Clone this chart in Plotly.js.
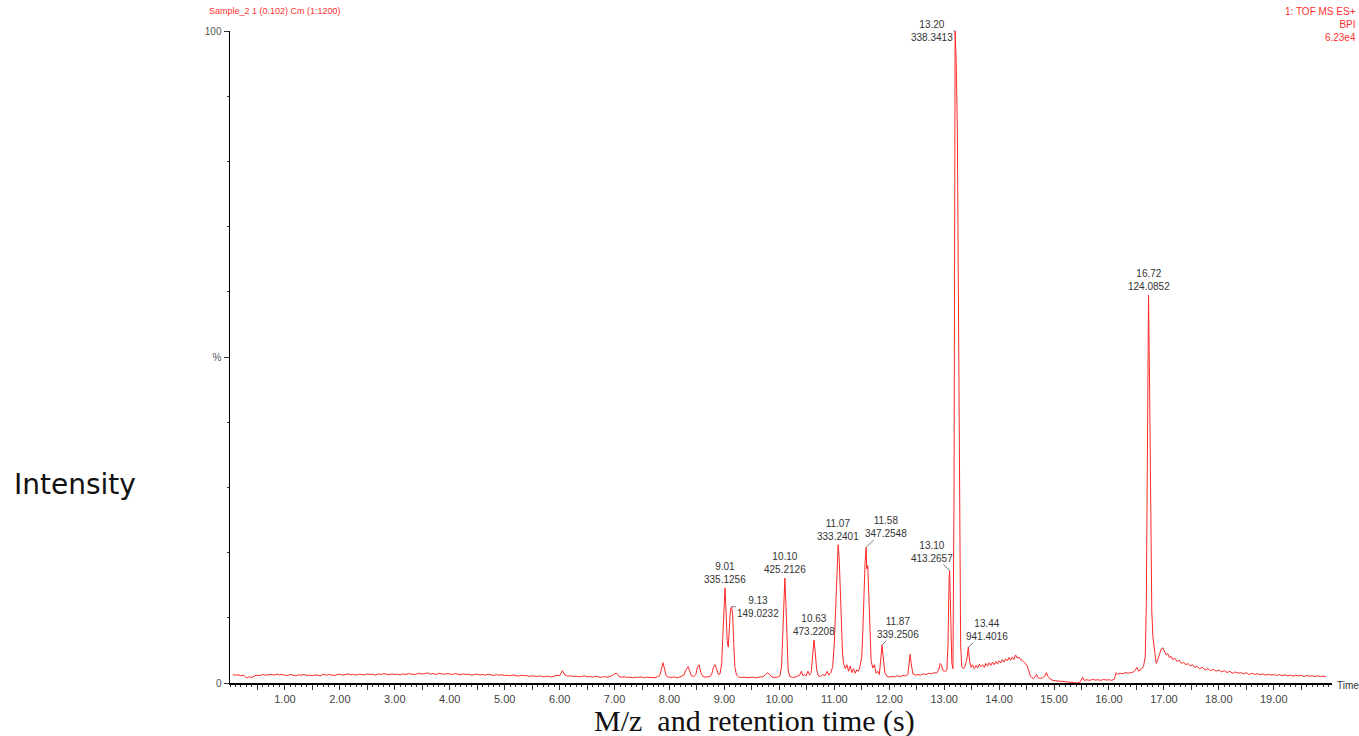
<!DOCTYPE html>
<html>
<head>
<meta charset="utf-8">
<script src="https://cdn.plot.ly/plotly-3.0.1.min.js"></script>
<style>html,body{margin:0;padding:0;background:#fff;}#chart{width:1359px;height:736px;}</style>
</head>
<body>
<div id="chart"></div>
<script>
// ---- Data (retention time in min, intensity in % of base peak) ----
const rtEarly = [0.05,0.10,0.15,0.20,0.25,0.30,0.35,0.40,0.45,0.50,0.55,0.60,0.65,0.70,0.75,0.80,0.85,0.90,0.95,1.00,
1.05,1.10,1.15,1.20,1.25,1.30,1.35,1.40,1.45,1.50,1.55,1.60,1.65,1.70,1.75,1.80,1.85,1.90,1.95,2.00,
2.05,2.10,2.15,2.20,2.25,2.30,2.35,2.40,2.45,2.50,2.55,2.60,2.65,2.70,2.75,2.80,2.85,2.90,2.95,3.00,
3.05,3.10,3.15,3.20,3.25,3.30,3.35,3.40,3.45,3.50,3.55,3.60,3.65,3.70,3.75,3.80,3.85,3.90,3.95,4.00,
4.05,4.10,4.15,4.20,4.25,4.30,4.35,4.40,4.45,4.50,4.55,4.60,4.65,4.70,4.75,4.80,4.85,4.90,4.95,5.00,
5.05,5.10,5.15,5.20,5.25,5.30,5.35,5.40,5.45,5.50,5.55,5.60,5.65,5.70,5.75,5.80,5.85,5.90,5.95,6.00,
6.05,6.10,6.15,6.20,6.25,6.30,6.35,6.40,6.45,6.50,6.55,6.60,6.65,6.70,6.75,6.80,6.85,6.90,6.95,7.00];
const intEarly = [1.3,1.2,1.25,1.1,1.2,0.8,0.95,0.85,1.1,1.2,1.15,1.3,1.2,1.25,1.3,1.2,1.35,1.25,1.3,1.2,
1.15,1.3,1.2,1.1,1.25,1.2,1.3,1.15,1.2,1.1,1.25,1.2,1.1,1.35,1.2,1.3,1.25,1.15,1.3,1.35,
1.2,1.3,1.4,1.25,1.3,1.2,1.35,1.3,1.25,1.4,1.3,1.35,1.2,1.4,1.3,1.45,1.3,1.25,1.4,1.3,
1.35,1.25,1.4,1.3,1.45,1.35,1.3,1.4,1.5,1.35,1.4,1.55,1.35,1.45,1.3,1.5,1.4,1.35,1.45,1.4,
1.3,1.45,1.35,1.25,1.4,1.3,1.35,1.2,1.3,1.35,1.25,1.3,1.2,1.35,1.25,1.15,1.3,1.2,1.25,1.15,
1.2,1.1,1.25,1.15,1.05,1.2,1.1,1.15,1.0,1.1,1.05,1.0,1.1,0.95,1.0,1.05,0.9,1.0,1.2,1.1,
1.9,1.2,1.05,1.1,1.0,1.05,0.95,1.0,1.1,0.95,1.0,0.9,1.05,0.95,0.85,1.0,0.9,0.95,1.1,1.4];

const rtMid = [7.04,7.08,7.13,7.18,7.23,7.28,7.33,7.38,7.43,7.48,7.53,7.58,7.63,7.68,7.73,7.78,7.82,7.85,7.88,7.91,7.94,7.98,
8.03,8.08,8.13,8.18,8.22,8.26,8.30,8.34,8.37,8.40,8.44,8.48,8.51,8.54,8.57,8.61,8.65,8.70,8.74,8.77,8.80,8.83,8.86,8.89,8.92,8.95,8.97,8.99,
9.01,9.03,9.05,9.07,9.09,9.11,9.13,9.15,9.17,9.19,9.22,9.26,9.31,9.36,9.41,9.46,9.51,9.56,9.61,9.66,9.71,9.75,9.79,9.83,9.87,9.92,9.97,
10.01,10.04,10.06,10.08,10.10,10.12,10.14,10.16,10.19,10.24,10.29,10.33,10.37,10.40,10.43,10.46,10.49,10.52,10.55,10.58,10.61,10.63,10.65,10.68,
10.71,10.75,10.79,10.83,10.87,10.90,10.94,10.97,11.00,11.02,11.04,11.06,11.07,11.09,11.11,11.13,11.15,11.17,11.20,11.23,11.26,11.29,11.32,11.35,
11.38,11.41,11.44,11.47,11.50,11.52,11.54,11.56,11.58,11.59,11.61,11.63,11.65,11.67,11.70,11.73,11.76,11.79,11.82,11.85,11.87,11.89,11.92,11.96,
12.00,12.05,12.10,12.15,12.20,12.25,12.30,12.34,12.36,12.38,12.40,12.43,12.47,12.52,12.57,12.62,12.67,12.72,12.77,12.82,12.86,12.90,12.93,12.95,12.98,
13.02,13.05,13.07,13.09,13.10,13.12,13.14,13.16,13.18,13.20,13.22,13.24,13.26,13.28,13.30,13.32];
const intMid = [1.5,1.0,0.9,0.95,0.85,0.9,0.8,0.9,0.85,0.95,0.8,0.9,0.85,0.9,0.8,0.95,1.1,2.0,3.1,2.2,1.1,0.9,
0.85,0.95,0.8,0.9,1.0,1.2,2.0,2.5,1.8,1.1,1.0,1.3,2.5,2.8,1.6,1.0,0.9,0.95,1.0,1.4,2.4,2.8,2.0,1.3,1.4,3.0,7.0,12.0,
14.6,11.0,6.5,5.5,8.5,11.2,11.7,10.5,6.0,2.5,1.2,0.9,0.85,0.9,0.8,0.85,0.9,0.8,0.9,0.95,1.0,1.3,1.6,1.2,0.9,0.85,0.9,
1.1,2.5,7.0,13.0,16.1,12.0,5.5,2.0,1.0,0.85,0.9,1.0,1.2,1.8,1.1,1.3,1.1,1.8,1.2,1.6,4.5,6.6,5.0,2.0,
1.1,1.0,1.3,1.1,1.8,1.2,1.6,2.5,6.0,11.0,17.0,20.5,21.2,19.0,13.0,7.5,4.5,3.0,2.2,2.8,1.8,2.6,1.6,2.2,
1.5,2.0,1.8,2.6,4.0,8.0,14.0,18.5,20.8,17.5,18.0,12.0,6.5,3.5,2.3,2.8,1.5,1.8,1.3,3.5,5.8,4.0,1.6,1.0,
0.9,1.0,0.95,1.1,1.0,1.15,1.1,1.3,3.0,4.4,3.0,1.4,1.2,1.3,1.2,1.4,1.3,1.5,1.4,1.6,1.5,2.0,3.0,2.8,1.9,
1.8,2.0,6.0,16.0,17.2,10.0,3.0,2.2,30.0,100,95,85,55,20,6,2.5];

const rtLate = [13.35,13.38,13.41,13.44,13.46,13.49,13.52,13.55,13.58,13.61,13.64,13.67,13.70,13.73,13.76,13.79,13.82,13.85,13.88,13.91,13.94,13.97,
14.00,14.03,14.06,14.09,14.12,14.15,14.18,14.21,14.24,14.27,14.30,14.33,14.36,14.39,14.42,14.45,14.48,14.51,14.54,14.57,14.60,14.63,14.66,14.68,
14.71,14.75,14.79,14.83,14.86,14.89,14.93,14.98,15.03,15.08,15.13,15.18,15.23,15.28,15.33,15.38,15.43,15.48,15.52,15.55,15.60,15.65,15.70,15.75,
15.80,15.85,15.90,15.95,16.00,16.05,16.10,16.13,16.16,16.20,16.25,16.30,16.35,16.40,16.45,16.48,16.51,16.54,16.57,16.60,16.63,16.66,16.68,16.70,
16.72,16.74,16.76,16.78,16.80,16.83,16.86,16.89,16.92,16.95,16.98,17.01,17.04,17.07,17.10,17.13,17.16,17.20,17.24,17.28,17.32,17.36,17.40,17.44,
17.48,17.52,17.56,17.60,17.65,17.70,17.75,17.80,17.85,17.90,17.95,18.00,18.05,18.10,18.15,18.20,18.25,18.30,18.35,18.40,18.45,18.50,18.55,18.60,
18.65,18.70,18.75,18.80,18.85,18.90,18.95,19.00,19.05,19.10,19.15,19.20,19.25,19.30,19.35,19.40,19.45,19.50,19.55,19.60,19.65,19.70,19.75,19.80,
19.85,19.90,19.95];
const intLate = [2.2,2.6,3.5,5.5,3.5,2.4,2.8,2.2,2.7,2.3,2.9,2.5,2.8,2.4,3.0,2.6,3.1,2.7,3.2,2.8,3.3,2.9,
3.4,3.1,3.6,3.2,3.7,3.4,3.9,3.5,4.0,3.6,4.3,3.8,4.0,3.6,3.5,3.2,3.0,2.6,1.8,1.1,0.8,0.7,1.0,1.3,
0.8,0.7,0.8,1.0,1.6,1.0,0.6,0.4,0.35,0.3,0.25,0.2,0.15,0.1,0.05,0.1,0.0,0.2,0.9,0.4,0.5,0.4,0.55,0.45,
0.5,0.4,0.55,0.45,0.5,0.4,0.6,1.6,1.3,1.5,1.4,1.6,1.5,1.6,1.7,2.0,2.4,1.8,2.0,2.2,2.6,4.0,12,40,
59.5,45,22,11,7,4.5,3.0,3.6,4.5,5.2,5.4,4.8,4.3,4.5,3.9,4.1,3.6,3.8,3.3,3.5,3.0,3.2,2.8,3.0,
2.6,2.8,2.4,2.6,2.2,2.4,2.0,2.2,1.9,2.1,1.8,2.0,1.7,1.9,1.6,1.8,1.5,1.7,1.5,1.6,1.4,1.6,1.3,1.5,
1.3,1.45,1.25,1.4,1.2,1.35,1.2,1.3,1.15,1.3,1.1,1.25,1.1,1.2,1.05,1.2,1.1,1.15,1.0,1.15,1.05,1.1,1.0,1.1,
1.0,1.05,0.95];

// Labelled peaks
const peakRT = [9.01, 9.13, 10.10, 10.63, 11.07, 11.58, 11.87, 13.10, 13.20, 13.44, 16.72];
const peakMZ = ["335.1256","149.0232","425.2126","473.2208","333.2401","347.2548","339.2506","413.2657","338.3413","941.4016","124.0852"];
const peakHeight = [14.6, 11.7, 16.1, 6.6, 21.2, 20.8, 5.8, 17.2, 100, 5.5, 59.5];

// Axis tick labels
const xTickVals = [0.5,1,1.5,2,2.5,3,3.5,4,4.5,5,5.5,6,6.5,7,7.5,8,8.5,9,9.5,10,10.5,11,11.5,12,12.5,13,13.5,14,14.5,15,15.5,16,16.5,17,17.5,18,18.5,19,19.5];
const xTickText = ["","1.00","","2.00","","3.00","","4.00","","5.00","","6.00","","7.00","","8.00","","9.00","","10.00","","11.00","","12.00","","13.00","","14.00","","15.00","","16.00","","17.00","","18.00","","19.00",""];
const yTickVals = [0, 50, 100];
const yTickText = ["0", "%", "100"];

// ---- Styling / label placement (pixel offsets for leader lines; null = label straight above) ----
const labelOffsets = [null, [26,0], null, null, null, [20,-20], [16,-17], [-18,-19], [-23,0], [19,-17], null];

const rt = rtEarly.concat(rtMid, rtLate);
const inten = intEarly.concat(intMid, intLate);

const trace = {
  x: rt, y: inten, type: 'scatter', mode: 'lines',
  line: {color: 'rgb(255,40,40)', width: 1},
  hoverinfo: 'x+y', showlegend: false
};

const labelFont = {family: 'Liberation Sans, Arial, sans-serif', size: 10, color: '#333'};
const annotations = peakRT.map((t, i) => {
  const txt = t.toFixed(2) + '<br>' + peakMZ[i];
  const off = labelOffsets[i];
  if (off) {
    return {x: t, y: peakHeight[i], xref: 'x', yref: 'y', text: txt, showarrow: true,
      arrowhead: 0, arrowwidth: 0.8, arrowcolor: '#555', ax: off[0], ay: off[1],
      standoff: 0, borderpad: 0, font: labelFont};
  }
  return {x: t, y: peakHeight[i], xref: 'x', yref: 'y', text: txt, showarrow: false,
    yanchor: 'bottom', yshift: 1, font: labelFont};
});

annotations.push(
  {xref: 'paper', yref: 'paper', x: 1, y: 0, xanchor: 'left', yanchor: 'middle', xshift: 3, yshift: -2,
   text: 'Time', showarrow: false, font: {family: 'Liberation Sans, Arial, sans-serif', size: 10, color: '#333'}},
  {xref: 'paper', yref: 'paper', x: -0.1978, y: 0.3037, xanchor: 'left', yanchor: 'middle',
   text: 'Intensity', showarrow: false, font: {family: 'DejaVu Sans, Verdana, sans-serif', size: 28, color: '#111'}},
  {xref: 'paper', yref: 'paper', x: 0.4764, y: -0.0537, xanchor: 'center', yanchor: 'middle', yshift: -3,
   text: 'M/z\u00a0 and retention time (s)', showarrow: false,
   font: {family: 'Liberation Serif, Times New Roman, serif', size: 30, color: '#111'}},
  {xref: 'paper', yref: 'paper', x: -0.0209, y: 1.031, xanchor: 'left', yanchor: 'middle',
   text: 'Sample_2 1 (0.102) Cm (1:1200)', showarrow: false,
   font: {family: 'Liberation Sans, Arial, sans-serif', size: 9, color: '#ff3030'}},
  {xref: 'paper', yref: 'paper', x: 1.0236, y: 1.0107, xanchor: 'right', yanchor: 'middle', align: 'right',
   text: '1: TOF MS ES+<br>BPI<br>6.23e4', showarrow: false,
   font: {family: 'Liberation Sans, Arial, sans-serif', size: 10, color: '#ff3030'}}
);

const layout = {
  width: 1359, height: 736,
  margin: {l: 230, r: 27, t: 31, b: 53, pad: 0},
  paper_bgcolor: '#fff', plot_bgcolor: '#fff',
  showlegend: false,
  xaxis: {
    range: [0, 20.06], showgrid: false, zeroline: false,
    showline: true, linecolor: '#000', linewidth: 2,
    tickmode: 'array', tickvals: xTickVals, ticktext: xTickText,
    ticks: 'outside', ticklen: 5, tickwidth: 1, tickcolor: '#333',
    tickfont: {family: 'Liberation Sans, Arial, sans-serif', size: 11, color: '#444'},
    minor: {tickmode: 'linear', tick0: 0, dtick: 0.1, ticks: 'outside', ticklen: 2, tickwidth: 1, tickcolor: '#333', showgrid: false}
  },
  yaxis: {
    range: [0, 100], showgrid: false, zeroline: false,
    showline: true, linecolor: '#000', linewidth: 1.5,
    tickmode: 'array', tickvals: yTickVals, ticktext: yTickText,
    ticks: 'outside', ticklen: 5, tickwidth: 1, tickcolor: '#333',
    tickfont: {family: 'Liberation Sans, Arial, sans-serif', size: 10, color: '#555'},
    minor: {tickmode: 'linear', tick0: 0, dtick: 10, ticks: 'outside', ticklen: 2, tickwidth: 1, tickcolor: '#333', showgrid: false}
  },
  annotations: annotations
};

Plotly.newPlot('chart', [trace], layout, {displayModeBar: false, staticPlot: true});
</script>
</body>
</html>
